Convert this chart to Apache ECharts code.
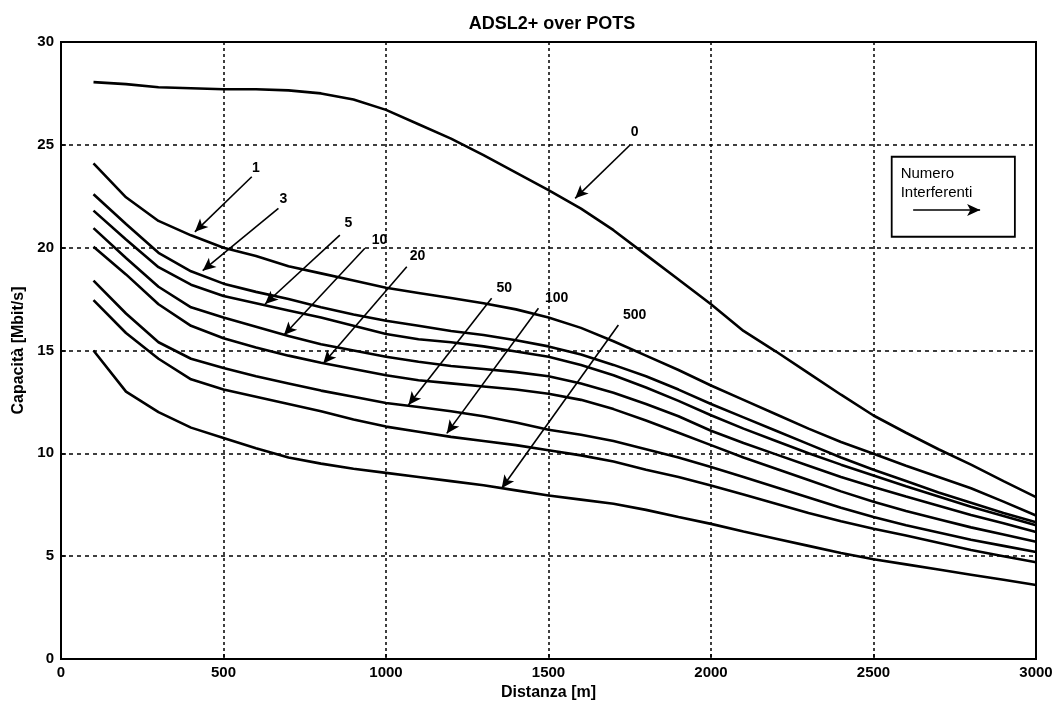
<!DOCTYPE html>
<html>
<head>
<meta charset="utf-8">
<script src="https://cdn.jsdelivr.net/npm/echarts@6/dist/echarts.min.js"></script>
<style>
html,body{margin:0;padding:0;background:#fff;}
#chart{width:1058px;height:704px;}
</style>
</head>
<body>
<div id="chart"></div>
<script>
// Distance [m]
const distance = [100,200,300,400,500,600,700,800,900,1000,1100,1200,1300,1400,1500,1600,1700,1800,1900,2000,2100,2200,2300,2400,2500,2600,2700,2800,2900,3000];
// Capacity [Mbit/s] by number of interferers
const cap0   = [28.05,27.95,27.8,27.75,27.7,27.7,27.65,27.5,27.2,26.7,26.0,25.3,24.5,23.65,22.8,21.9,20.85,19.65,18.45,17.25,15.95,14.95,13.9,12.85,11.84,11.0,10.2,9.45,8.65,7.87];
const cap1   = [24.1,22.45,21.3,20.6,20.0,19.6,19.1,18.75,18.4,18.05,17.8,17.55,17.3,17.0,16.6,16.1,15.45,14.75,14.05,13.3,12.6,11.9,11.2,10.55,9.98,9.4,8.85,8.3,7.65,6.98];
const cap3   = [22.6,21.15,19.75,18.85,18.25,17.85,17.5,17.1,16.75,16.45,16.2,15.95,15.75,15.5,15.2,14.8,14.3,13.75,13.1,12.4,11.75,11.1,10.45,9.8,9.2,8.65,8.1,7.6,7.1,6.65];
const cap5   = [21.8,20.4,19.05,18.2,17.65,17.3,16.95,16.6,16.2,15.8,15.55,15.4,15.2,14.95,14.7,14.3,13.8,13.2,12.55,11.85,11.2,10.6,10.0,9.45,8.92,8.4,7.9,7.4,6.95,6.5];
const cap10  = [20.95,19.5,18.1,17.1,16.6,16.15,15.7,15.3,15.0,14.7,14.45,14.25,14.1,13.95,13.75,13.4,12.95,12.4,11.8,11.1,10.5,9.95,9.4,8.85,8.36,7.9,7.45,7.0,6.6,6.17];
const cap20  = [20.05,18.7,17.25,16.2,15.6,15.15,14.75,14.4,14.1,13.8,13.55,13.4,13.25,13.1,12.9,12.6,12.15,11.6,11.0,10.4,9.8,9.25,8.7,8.15,7.65,7.2,6.8,6.4,6.05,5.7];
const cap50  = [18.4,16.8,15.4,14.6,14.15,13.75,13.4,13.05,12.75,12.45,12.25,12.05,11.8,11.5,11.15,10.9,10.6,10.2,9.8,9.33,8.85,8.35,7.85,7.35,6.9,6.5,6.15,5.8,5.5,5.2];
const cap100 = [17.45,15.85,14.6,13.6,13.1,12.75,12.4,12.05,11.65,11.3,11.05,10.8,10.6,10.4,10.15,9.9,9.6,9.2,8.85,8.44,8.0,7.55,7.1,6.7,6.33,6.0,5.65,5.3,5.0,4.7];
const cap500 = [15.0,13.0,12.0,11.25,10.75,10.25,9.8,9.5,9.25,9.05,8.85,8.65,8.45,8.2,7.95,7.75,7.55,7.25,6.9,6.57,6.2,5.85,5.5,5.15,4.85,4.6,4.35,4.1,3.85,3.6];

const seriesNames = ['0','1','3','5','10','20','50','100','500'];
const seriesValues = [cap0,cap1,cap3,cap5,cap10,cap20,cap50,cap100,cap500];

// Tick labels
const xTicks = [0,500,1000,1500,2000,2500,3000];
const yTicks = [0,5,10,15,20,25,30];

// Annotation labels (data coords) and arrows [x1,y1,x2,y2]
const labelPoints = [[1765,25.65,'0'],[600,23.9,'1'],[684,22.4,'3'],[884,21.2,'5'],[980,20.4,'10'],[1097,19.6,'20'],[1364,18.05,'50'],[1525,17.55,'100'],[1765,16.75,'500']];
const arrowLines = [
  [1751,24.99,1582,22.4],
  [587,23.45,412,20.77],
  [669,21.91,436,18.88],
  [858,20.61,628,17.26],
  [935,19.97,686,15.75],
  [1064,19.07,807,14.37],
  [1325,17.54,1069,12.35],
  [1469,17.05,1187,10.97],
  [1715,16.24,1356,8.3]
];
const legendBox = [[2556,24.42],[2935,20.53]];
const legendTextPoint = [2582,23.15];
const legendText = 'Numero\nInterferenti';
const legendArrow = [2622,21.83,2828,21.83];

const chart = echarts.init(document.getElementById('chart'));
const fontFam = '"Liberation Sans", Arial, sans-serif';

const series = seriesNames.map((n,i)=>({
  name: n,
  type: 'line',
  showSymbol: false,
  symbol: 'none',
  data: distance.map((d,k)=>[d, seriesValues[i][k]]),
  lineStyle: {color:'#000', width:2.6},
  z: 3,
  animation: false
}));

// arrows + legend box
series.push({
  type: 'line',
  data: [],
  silent: true,
  animation: false,
  z: 4,
  markLine: {
    silent: true,
    symbol: ['none','arrow'],
    symbolSize: [9,13],
    lineStyle: {color:'#000', width:1.6, type:'solid', opacity:1},
    label: {show:false},
    emphasis: {disabled:true},
    data: arrowLines.concat([legendArrow]).map(a=>[{coord:[a[0],a[1]]},{coord:[a[2],a[3]]}]),
    animation: false
  },
  markArea: {
    silent: true,
    itemStyle: {color:'#fff', borderColor:'#000', borderWidth:1.8},
    label: {show:false},
    data: [[{coord:legendBox[0]},{coord:legendBox[1]}]]
  }
});

// curve labels
series.push({
  type: 'scatter',
  symbol: 'circle',
  symbolSize: 1,
  itemStyle: {color:'rgba(0,0,0,0)', opacity:1},
  data: labelPoints.map(p=>({value:[p[0],p[1]], name:p[2]})),
  label: {show:true, position:'top', distance:-8, formatter: p=>p.name, color:'#000', opacity:1, fontFamily: fontFam, fontWeight:'bold', fontSize:14},
  emphasis: {disabled:true},
  z: 5,
  silent: true,
  animation: false
});

// legend box text
series.push({
  type: 'scatter',
  symbol: 'circle',
  symbolSize: 1,
  itemStyle: {color:'rgba(0,0,0,0)', opacity:1},
  data: [{value: legendTextPoint, name: legendText}],
  label: {show:true, position:'right', distance:0, align:'left', formatter: p=>p.name, color:'#000', fontFamily: fontFam, fontSize:15, lineHeight:19},
  emphasis: {disabled:true},
  z: 6,
  silent: true,
  animation: false
});

chart.setOption({
  backgroundColor: '#fff',
  animation: false,
  title: {
    text: 'ADSL2+ over POTS',
    left: 547, top: 10, textAlign: 'center',
    textStyle: {fontFamily: fontFam, fontWeight:'bold', fontSize:18, color:'#000'}
  },
  grid: {left:61, right:22, top:42, bottom:45, outerBoundsMode:'none', containLabel:false, show:true, borderColor:'#000', borderWidth:2, backgroundColor:'transparent'},
  xAxis: {
    type:'value', min:xTicks[0], max:xTicks[xTicks.length-1], interval:500,
    name:'Distanza [m]', nameLocation:'middle', nameGap:24,
    nameTextStyle:{fontFamily:fontFam, fontWeight:'bold', fontSize:16, color:'#000'},
    axisLine:{show:true, lineStyle:{color:'#000', width:2}},
    axisTick:{show:true, inside:true, length:5, lineStyle:{color:'#000', width:1.5}},
    axisLabel:{fontFamily:fontFam, fontWeight:'bold', fontSize:15, color:'#000', margin:6, formatter: v=>String(v)},
    splitLine:{show:true, lineStyle:{color:'#000', width:1.5, type:[3,3]}}
  },
  yAxis: {
    type:'value', min:yTicks[0], max:yTicks[yTicks.length-1], interval:5,
    name:'Capacità [Mbit/s]', nameLocation:'middle', nameGap:33,
    nameTextStyle:{fontFamily:fontFam, fontWeight:'bold', fontSize:16, color:'#000'},
    axisLine:{show:true, lineStyle:{color:'#000', width:2}},
    axisTick:{show:true, inside:true, length:5, lineStyle:{color:'#000', width:1.5}},
    axisLabel:{fontFamily:fontFam, fontWeight:'bold', fontSize:15, color:'#000', margin:7, formatter: v=>String(v)},
    splitLine:{show:true, lineStyle:{color:'#000', width:1.5, type:[4,4]}}
  },
  series: series
});
</script>
</body>
</html>
